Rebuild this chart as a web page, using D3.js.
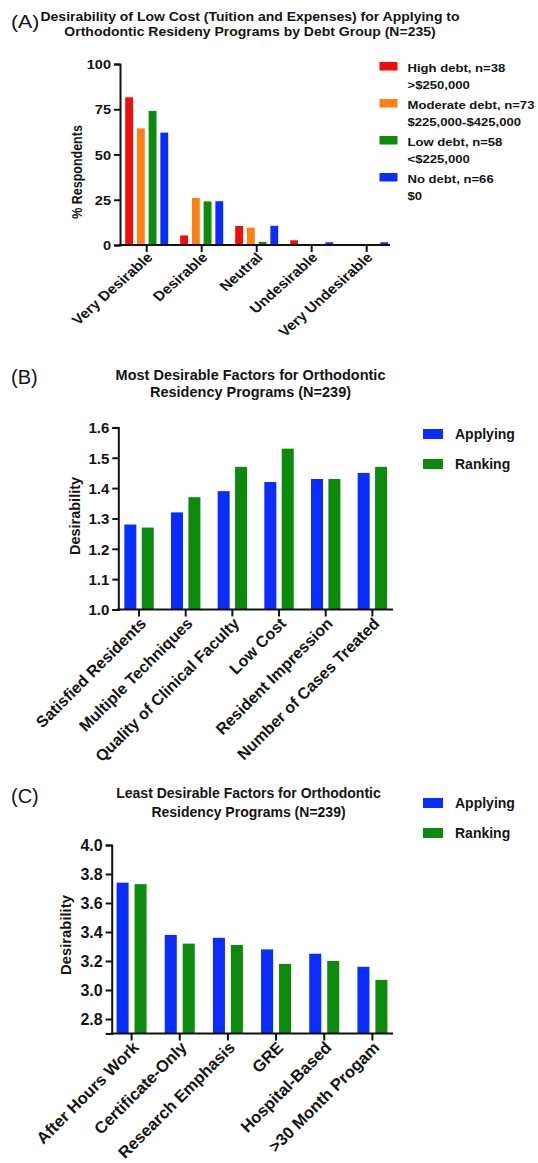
<!DOCTYPE html>
<html><head><meta charset="utf-8">
<script src="https://cdn.jsdelivr.net/npm/d3@7"></script>
<style>
body{margin:0;background:#fff}
text{font-family:"Liberation Sans",Arial,Helvetica,sans-serif;font-weight:bold;fill:#141414}
</style>
</head><body>
<svg id="c" width="538" height="1163"></svg>
<script>
// ---------- Data ----------
const debtCategories = ["Very Desirable","Desirable","Neutral","Undesirable","Very Undesirable"];
const debtGroups = ["High debt, n=38","Moderate debt, n=73","Low debt, n=58","No debt, n=66"];
const debtRanges = [">$250,000","$225,000-$425,000","<$225,000","$0"];
const highDebt = [81.6,5.3,10.5,2.6,0];
const moderateDebt = [64.4,26.0,9.6,0,0];
const lowDebt = [74.1,24.1,1.7,0,0];
const noDebt = [62.1,24.2,10.6,1.5,1.5];
const debtTicks = [0,25,50,75,100];

const mostFactors = ["Satisfied Residents","Multiple Techniques","Quality of Clinical Faculty","Low Cost","Resident Impression","Number of Cases Treated"];
const mostApplying = [1.28,1.32,1.39,1.42,1.43,1.45];
const mostRanking = [1.27,1.37,1.47,1.53,1.43,1.47];
const mostTicks = [1.0,1.1,1.2,1.3,1.4,1.5,1.6];

const leastFactors = ["After Hours Work","Certificate-Only","Research Emphasis","GRE","Hospital-Based",">30 Month Progam"];
const leastApplying = [3.74,3.38,3.36,3.28,3.25,3.16];
const leastRanking = [3.73,3.32,3.31,3.18,3.20,3.07];
const leastTicks = [2.8,3.0,3.2,3.4,3.6,3.8,4.0];

const seriesNames = ["Applying","Ranking"];

const RED="#f20d0d", ORANGE="#ff7f12", GREEN="#0c8a0c", BLUE="#0a2dff";

const svg = d3.select("#c");

function panel(cfg){
  const sx = cfg.stretch || 1;
  const g = svg.append("g");
  const x = d3.scaleBand().domain(cfg.categories).range(cfg.xRange);
  const xs = d3.scaleBand().domain(d3.range(cfg.series.length))
      .range([-cfg.groupWidth/2, cfg.groupWidth/2]).paddingInner(cfg.innerPad);
  const y = d3.scaleLinear().domain(cfg.yDomain).range(cfg.yRange);
  const cx = c => x(c) + x.bandwidth()/2;

  g.append("text").attr("transform",`translate(${cfg.tag[0]},${cfg.tag[1]}) scale(${sx},1)`)
    .style("font-weight","normal").style("font-size",cfg.tagSize+"px").text(cfg.tagText);
  cfg.title.forEach((t,i)=>{
    g.append("text").attr("transform",`translate(${cfg.titlePos[0]},${cfg.titlePos[1]+i*cfg.titleGap}) scale(${sx},1)`)
      .attr("text-anchor","middle").style("font-size",cfg.titleSize+"px").text(t);
  });

  cfg.series.forEach((s,si)=>{
    g.append("g").selectAll("rect").data(s.values).join("rect")
      .attr("x",(d,i)=>cx(cfg.categories[i]) + xs(si))
      .attr("width",xs.bandwidth())
      .attr("y",d=>y(d))
      .attr("height",d=>y(cfg.yDomain[0])-y(d))
      .attr("fill",s.color);
  });

  const ya = g.append("g").attr("transform",`translate(${cfg.axisX},0)`)
    .call(d3.axisLeft(y).tickValues(cfg.yTicks).tickSizeOuter(0).tickSize(6).tickFormat(cfg.fmt));
  ya.attr("font-family",null).attr("font-size",null);
  ya.select(".domain").attr("stroke","#111").attr("stroke-width",2);
  ya.selectAll(".tick line").attr("stroke","#111").attr("stroke-width",2);
  ya.selectAll(".tick text").attr("x",null).attr("dy",null)
    .attr("transform",`translate(-9,0) scale(${sx},1)`).attr("dy","0.36em")
    .style("font-size",cfg.tickSize+"px").attr("fill","#141414");

  const base = y(cfg.yDomain[0]);
  const xa = g.append("g").attr("transform",`translate(0,${base})`)
    .call(d3.axisBottom(x).tickSizeOuter(0).tickSize(7).tickFormat(""));
  xa.select(".domain").remove();
  xa.selectAll(".tick line").attr("stroke","#111").attr("stroke-width",2);
  g.append("line").attr("x1",cfg.axisX-1).attr("x2",cfg.xEnd).attr("y1",base).attr("y2",base)
    .attr("stroke","#111").attr("stroke-width",2);

  g.append("g").selectAll("text").data(cfg.categories).join("text")
    .attr("transform",c=>`translate(${cx(c)+cfg.labOff[0]},${base+cfg.labOff[1]}) scale(${sx},1) rotate(-45)`)
    .attr("text-anchor","end").attr("dy","0.35em")
    .style("font-size",cfg.labSize+"px").text(c=>c);

  g.append("text").attr("transform",`translate(${cfg.yLab[0]},${cfg.yLab[1]}) scale(${sx},1) rotate(-90)`)
    .attr("text-anchor","middle").attr("dy","0.35em").style("font-size",cfg.yLabSize+"px").text(cfg.yLabel);

  const lg = g.append("g");
  cfg.series.forEach((s,i)=>{
    const by = cfg.leg.y + i*cfg.leg.step;
    lg.append("rect").attr("x",cfg.leg.x).attr("y",by-cfg.leg.h-cfg.leg.sw)
      .attr("width",cfg.leg.w).attr("height",cfg.leg.h).attr("fill",s.color);
    s.label.forEach((t,j)=>{
      lg.append("text").attr("transform",`translate(${cfg.leg.tx},${by+j*cfg.leg.line}) scale(${sx},1)`)
        .style("font-size",cfg.leg.size+"px").text(t);
    });
  });
}

panel({
  tagText:"(A)", tag:[11,28], tagSize:19, stretch:1.12,
  title:["Desirability of Low Cost (Tuition and Expenses) for Applying to","Orthodontic Resideny Programs by Debt Group (N=235)"],
  titlePos:[250,21], titleGap:14.5, titleSize:12.5,
  categories:debtCategories,
  series:[
    {values:highDebt,color:RED,label:[debtGroups[0],debtRanges[0]]},
    {values:moderateDebt,color:ORANGE,label:[debtGroups[1],debtRanges[1]]},
    {values:lowDebt,color:GREEN,label:[debtGroups[2],debtRanges[2]]},
    {values:noDebt,color:BLUE,label:[debtGroups[3],debtRanges[3]]}],
  xRange:[119.2,394.2], groupWidth:43, innerPad:0.33,
  yDomain:[0,100], yRange:[245,64], yTicks:debtTicks, fmt:d3.format("d"),
  axisX:120, xEnd:390, tickSize:13, labSize:13.8, labOff:[3,10],
  yLab:[77,172], yLabel:"% Respondents", yLabSize:12.5,
  leg:{x:379.5,y:72,step:37,w:18,h:8.5,sw:1.5,tx:407.5,line:17,size:11.7}
});

panel({
  tagText:"(B)", tag:[11,384], tagSize:20, stretch:1,
  title:["Most Desirable Factors for Orthodontic","Residency Programs (N=239)"],
  titlePos:[250.5,380], titleGap:16.7, titleSize:14.5,
  categories:mostFactors,
  series:[
    {values:mostApplying,color:BLUE,label:[seriesNames[0]]},
    {values:mostRanking,color:GREEN,label:[seriesNames[1]]}],
  xRange:[115.7,395.7], groupWidth:29.4, innerPad:0.31,
  yDomain:[1.0,1.6], yRange:[609.5,427.4], yTicks:mostTicks, fmt:d3.format(".1f"),
  axisX:118.3, xEnd:393, tickSize:15, labSize:16, labOff:[4,11],
  yLab:[75,516], yLabel:"Desirability", yLabSize:14.5,
  leg:{x:423,y:439,step:30,w:20,h:10,sw:0,tx:455,line:17,size:14}
});

panel({
  tagText:"(C)", tag:[11,803], tagSize:20, stretch:1,
  title:["Least Desirable Factors for Orthodontic","Residency Programs (N=239)"],
  titlePos:[248.5,798], titleGap:19.4, titleSize:14,
  categories:leastFactors,
  series:[
    {values:leastApplying,color:BLUE,label:[seriesNames[0]]},
    {values:leastRanking,color:GREEN,label:[seriesNames[1]]}],
  xRange:[107.5,396.5], groupWidth:30, innerPad:0.33,
  yDomain:[2.7,4.0], yRange:[1033.5,845], yTicks:leastTicks, fmt:d3.format(".1f"),
  axisX:111.7, xEnd:393, tickSize:16, labSize:16.5, labOff:[4,11],
  yLab:[66,935], yLabel:"Desirability", yLabSize:14.8,
  leg:{x:423,y:808,step:30,w:20,h:10,sw:0,tx:455,line:17,size:14}
});
</script>
</body></html>
